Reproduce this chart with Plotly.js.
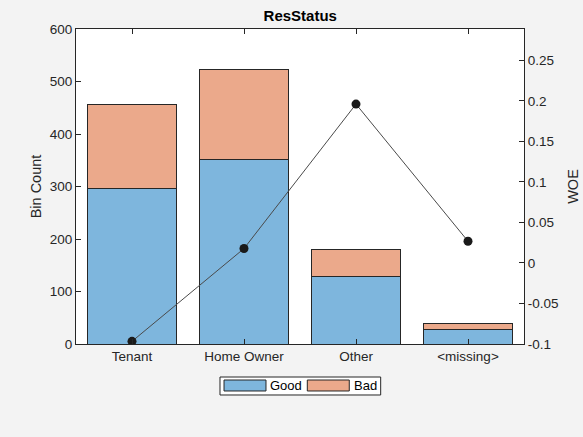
<!DOCTYPE html>
<html>
<head>
<meta charset="utf-8">
<script src="https://cdn.plot.ly/plotly-3.0.1.min.js"></script>
<style>
  body { margin: 0; background: #f3f3f3; }
  #chart { width: 583px; height: 437px; }
</style>
</head>
<body>
<div id="chart"></div>
<script>
// bin data for ResStatus
const bins = ['Tenant', 'Home Owner', 'Other', '<missing>']
const goodCounts = [296, 352, 128, 27]
const badCounts = [161, 171, 52, 13]
const woe = [-0.0967, 0.0178, 0.196, 0.0268]
const seriesNames = ['Good', 'Bad']

const goodColor = '#7eb6dd'
const badColor = '#eba98b'
const edge = '#262626'
const font = { family: 'Liberation Sans, Arial, sans-serif', size: 13.5, color: '#262626' }

const traces = [
  {
    x: bins, y: goodCounts, name: seriesNames[0], type: 'bar',
    marker: { color: goodColor, line: { color: edge, width: 1 } },
    hoverinfo: 'none'
  },
  {
    x: bins, y: badCounts, name: seriesNames[1], type: 'bar',
    marker: { color: badColor, line: { color: edge, width: 1 } },
    hoverinfo: 'none'
  },
  {
    x: bins, y: woe, name: 'WOE', type: 'scatter', mode: 'lines+markers',
    yaxis: 'y2',
    line: { color: '#4a4a4a', width: 1 },
    marker: { color: '#1a1a1a', size: 9 },
    hoverinfo: 'none'
  }
]

// MATLAB-style legend box: wide swatches, drawn in paper coords
const legendShapes = [
  { type: 'rect', xref: 'paper', yref: 'paper', x0: 0.3214, x1: 0.6801, y0: -0.1048, y1: -0.1619,
    fillcolor: '#ffffff', line: { color: edge, width: 1 } },
  { type: 'rect', xref: 'paper', yref: 'paper', x0: 0.3304, x1: 0.4241, y0: -0.1143, y1: -0.1492,
    fillcolor: goodColor, line: { color: edge, width: 1 } },
  { type: 'rect', xref: 'paper', yref: 'paper', x0: 0.5163, x1: 0.6100, y0: -0.1143, y1: -0.1492,
    fillcolor: badColor, line: { color: edge, width: 1 } }
]
const legendLabels = [
  { text: seriesNames[0], xref: 'paper', yref: 'paper', x: 0.4275, y: -0.1317,
    xanchor: 'left', yanchor: 'middle', showarrow: false, font: { size: 13, color: '#000' } },
  { text: seriesNames[1], xref: 'paper', yref: 'paper', x: 0.6150, y: -0.1317,
    xanchor: 'left', yanchor: 'middle', showarrow: false, font: { size: 13, color: '#000' } }
]

const layout = {
  width: 583, height: 437,
  paper_bgcolor: '#f3f3f3', plot_bgcolor: '#ffffff',
  font: font,
  barmode: 'stack', bargap: 0.2,
  margin: { l: 76, r: 59, t: 29, b: 93 },
  title: { text: '<b>ResStatus</b>', font: { size: 15, color: '#000' }, x: 0.515, xanchor: 'center', y: 0.976, yanchor: 'top' },
  xaxis: {
    range: [-0.5, 3.5], ticks: 'inside', ticklen: 5, tickcolor: edge,
    showline: true, linecolor: edge, linewidth: 1, mirror: 'ticks',
    showgrid: false, zeroline: false, fixedrange: true
  },
  yaxis: {
    title: { text: 'Bin Count', font: { size: 14.5 }, standoff: 4 },
    range: [0, 600], dtick: 100, ticks: 'inside', ticklen: 5, tickcolor: edge,
    showline: true, linecolor: edge, linewidth: 1,
    showgrid: false, zeroline: false
  },
  yaxis2: {
    title: { text: 'WOE', font: { size: 14.5 }, standoff: 10 },
    overlaying: 'y', side: 'right',
    range: [-0.1, 0.2887], tickvals: [-0.1, -0.05, 0, 0.05, 0.1, 0.15, 0.2, 0.25],
    ticktext: ['-0.1', '-0.05', '0', '0.05', '0.1', '0.15', '0.2', '0.25'],
    ticks: 'inside', ticklen: 5, tickcolor: edge,
    showline: true, linecolor: edge, linewidth: 1,
    showgrid: false, zeroline: false
  },
  showlegend: false,
  shapes: legendShapes,
  annotations: legendLabels
}

Plotly.newPlot('chart', traces, layout, { staticPlot: true })
</script>
</body>
</html>
